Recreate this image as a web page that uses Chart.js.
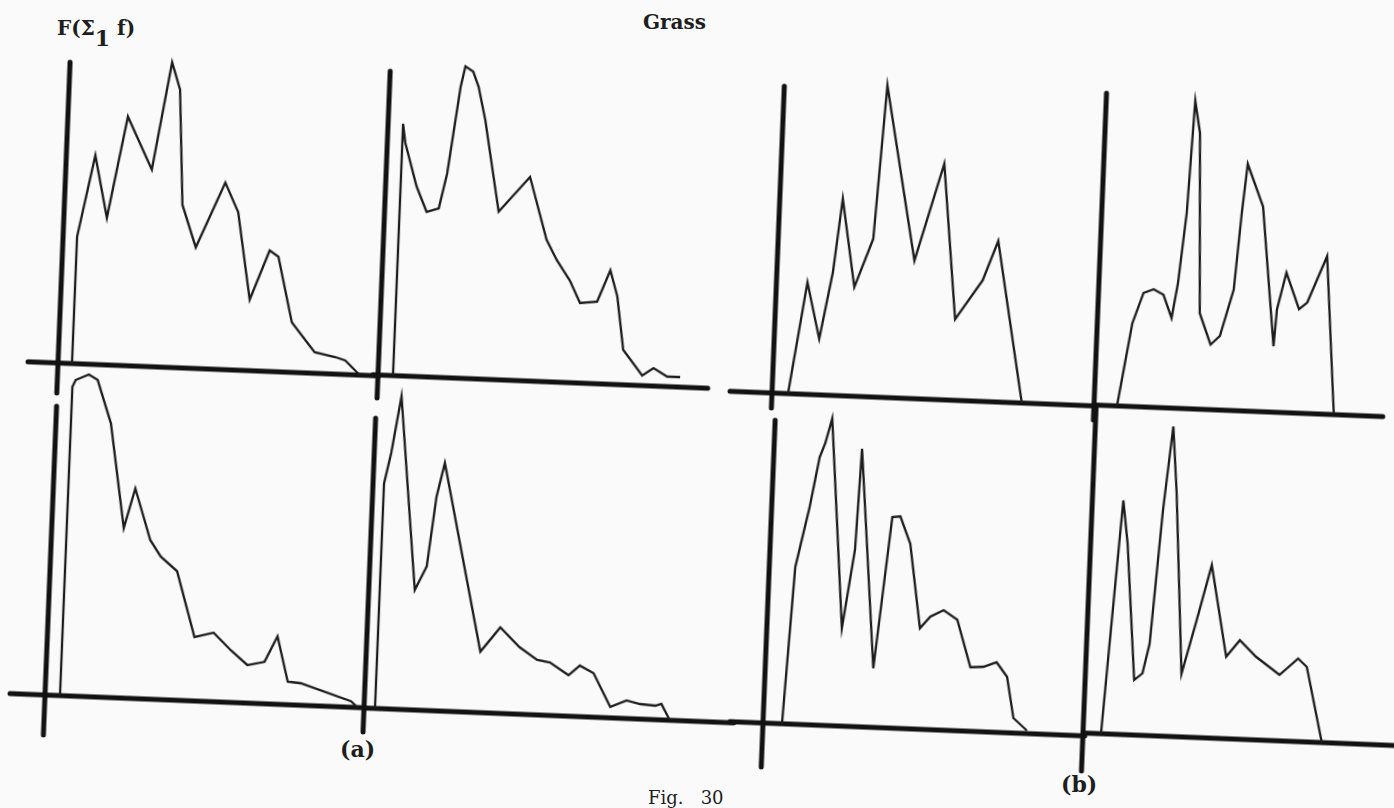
<!DOCTYPE html>
<html>
<head>
<meta charset="utf-8">
<title>Grass - Fig. 30</title>
<script src="https://cdn.jsdelivr.net/npm/chart.js@4.4.0/dist/chart.umd.min.js"></script>
<style>
  html, body { margin: 0; padding: 0; background: #fafafa; }
  body { width: 1394px; height: 808px; position: relative; overflow: hidden; font-family: 'DejaVu Serif', serif; }
  .panel { position: absolute; transform-origin: 50px 330px; transform: rotate(2.3deg); }
  .label { position: absolute; font-weight: bold; color: #1e1e1e; white-space: nowrap; }
</style>
</head>
<body>
<div class="label" style="left:57px; top:14px; font-size:20px;">F(Σ<span style="position:relative; top:11px; font-size:22px;">1</span> f)</div>
<div class="label" style="left:643px; top:10px; font-size:20px;">Grass</div>
<div class="label" style="left:340px; top:736px; font-size:22px;">(a)</div>
<div class="label" style="left:1061px; top:771px; font-size:22px;">(b)</div>
<div class="label" style="left:648px; top:787px; font-size:18px; font-weight:normal;">Fig.&nbsp;&nbsp;&nbsp;30</div>

<script>
// F(Σ1 f) curves: x = distance along the axis, y = height above it

// (a) top left
const aTopLeftX = [14, 14, 29, 43, 60, 86, 102, 111, 118, 133, 160, 174, 189, 207, 216, 232, 256, 277, 287, 302];
const aTopLeftY = [0, 127, 209, 147, 249, 197, 305, 278, 163, 121, 187, 158, 71, 121, 115, 50, 21, 17, 14, 0];

// (a) top right
const aTopRightX = [15, 15, 18, 31, 42, 54, 61, 71, 75, 83, 89, 97, 114, 144, 163, 174, 188, 199, 216, 228, 236, 244, 264, 275, 289, 302];
const aTopRightY = [0, 252, 233, 190, 165, 169, 204, 291, 312, 307, 292, 259, 168, 204, 142, 122, 102, 80, 82, 114, 88, 35, 10, 18, 10, 10];

// (a) bottom left
const aBottomLeftX = [15, 15, 18, 31, 40, 55, 72, 82, 99, 110, 127, 147, 166, 184, 201, 218, 230, 242, 255, 306, 313];
const aBottomLeftY = [0, 309, 316, 322, 317, 274, 170, 210, 159, 143, 129, 64, 69, 52, 38, 42, 68, 23, 22, 6, 0];

// (a) bottom right
const aBottomRightX = [11, 11, 17, 25, 46, 57, 64, 71, 114, 133, 153, 171, 184, 203, 214, 228, 246, 262, 276, 291, 297, 306];
const aBottomRightY = [0, 225, 256, 313, 120, 144, 214, 248, 61, 86, 67, 55, 53, 41, 51, 44, 11, 18, 15, 14, 16, 0];

// (b) top left
const bTopLeftX = [16, 31, 45, 56, 63, 78, 95, 103, 137, 163, 180, 206, 220, 250];
const bTopLeftY = [0, 112, 56, 123, 197, 109, 158, 312, 138, 236, 81, 121, 161, 0];

// (b) top right
const bTopRightX = [23, 35, 45, 55, 65, 74, 79, 85, 89, 95, 102, 114, 123, 135, 140, 144, 161, 177, 179, 187, 201, 209, 227, 240];
const bTopRightY = [0, 83, 114, 118, 113, 90, 125, 196, 308, 276, 96, 65, 74, 121, 198, 247, 205, 66, 103, 140, 104, 111, 158, 0];

// (b) bottom left
const bBottomLeftX = [19, 26, 38, 46, 51, 57, 75, 85, 88, 108, 121, 129, 140, 153, 163, 176, 190, 205, 218, 231, 242, 250, 264];
const bBottomLeftY = [0, 157, 218, 268, 282, 307, 98, 177, 278, 59, 211, 212, 185, 101, 113, 120, 111, 64, 65, 70, 56, 15, 3];

// (b) bottom right
const bBottomRightX = [18, 23, 31, 37, 49, 57, 63, 71, 78, 84, 96, 109, 122, 140, 153, 170, 194, 212, 221, 239];
const bBottomRightY = [0, 91, 234, 191, 55, 62, 92, 226, 310, 243, 63, 117, 173, 82, 99, 83, 66, 83, 75, 0];

// where each little plot sits on the page (axis crossing) and how far its axes run
const panels = [
  { xs: aTopLeftX,     ys: aTopLeftY,     ox: 58,   oy: 363, v: [-30, 301], h: [-30, 321] },
  { xs: aTopRightX,    ys: aTopRightY,    ox: 378,  oy: 375, v: [-23, 304], h: [-5, 330] },
  { xs: aBottomLeftX,  ys: aBottomLeftY,  ox: 44.5, oy: 695, v: [-40, 289], h: [-35, 320] },
  { xs: aBottomRightX, ys: aBottomRightY, ox: 364,  oy: 708, v: [-24, 290], h: [0, 370] },
  { xs: bTopLeftX,     ys: bTopLeftY,     ox: 772,  oy: 393, v: [-15, 307], h: [-42, 322] },
  { xs: bTopRightX,    ys: bTopRightY,    ox: 1094, oy: 405, v: [-15, 312], h: [0, 289] },
  { xs: bBottomLeftX,  ys: bBottomLeftY,  ox: 763,  oy: 723, v: [-44, 303], h: [-33, 322] },
  { xs: bBottomRightX, ys: bBottomRightY, ox: 1083, oy: 733, v: [-38, 328], h: [0, 312] }
];

const X_MIN = -50, X_MAX = 375, Y_MIN = -60, Y_MAX = 330;

// thick hand-drawn style axes that cross and run past each other
const axisLines = {
  id: 'axisLines',
  beforeDatasetsDraw(chart, args, opts) {
    const { ctx, scales: { x, y } } = chart;
    ctx.save();
    ctx.strokeStyle = '#121212';
    ctx.lineWidth = 5;
    ctx.lineCap = 'round';
    ctx.beginPath();
    ctx.moveTo(x.getPixelForValue(0), y.getPixelForValue(opts.v[0]));
    ctx.lineTo(x.getPixelForValue(0), y.getPixelForValue(opts.v[1]));
    ctx.moveTo(x.getPixelForValue(opts.h[0]), y.getPixelForValue(0));
    ctx.lineTo(x.getPixelForValue(opts.h[1]), y.getPixelForValue(0));
    ctx.stroke();
    ctx.restore();
  }
};

panels.forEach(p => {
  const canvas = document.createElement('canvas');
  canvas.className = 'panel';
  canvas.width = X_MAX - X_MIN;
  canvas.height = Y_MAX - Y_MIN;
  canvas.style.width = canvas.width + 'px';
  canvas.style.height = canvas.height + 'px';
  canvas.style.left = (p.ox + X_MIN) + 'px';
  canvas.style.top = (p.oy - Y_MAX) + 'px';
  document.body.appendChild(canvas);

  new Chart(canvas.getContext('2d'), {
    type: 'line',
    data: {
      datasets: [{
        data: p.xs.map((x, i) => ({ x: x, y: p.ys[i] })),
        borderColor: '#1c1c1c',
        borderWidth: 2.3,
        pointRadius: 0,
        tension: 0,
        fill: false
      }]
    },
    options: {
      responsive: false,
      animation: false,
      layout: { padding: 0 },
      plugins: {
        legend: { display: false },
        tooltip: { enabled: false },
        axisLines: { v: p.v, h: p.h }
      },
      scales: {
        x: { type: 'linear', min: X_MIN, max: X_MAX, display: false },
        y: { type: 'linear', min: Y_MIN, max: Y_MAX, display: false }
      }
    },
    plugins: [axisLines]
  });
});
</script>
</body>
</html>
